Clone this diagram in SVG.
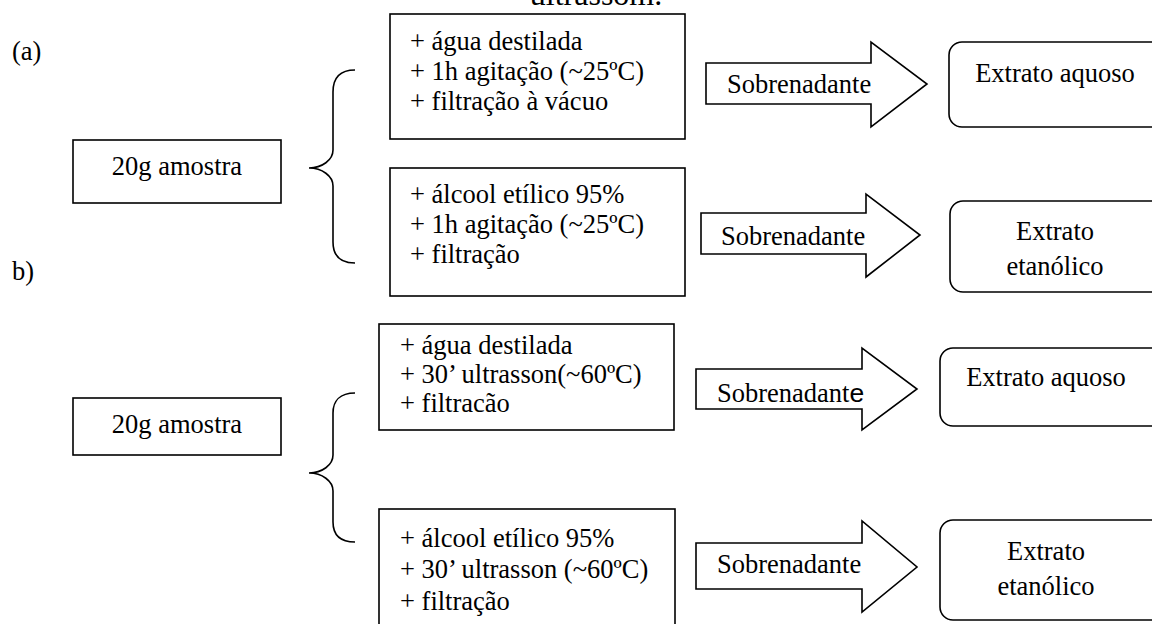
<svg xmlns="http://www.w3.org/2000/svg" width="1152" height="624" viewBox="0 0 1152 624">
<style>
text{font-family:"Liberation Serif","Times New Roman",serif;font-size:26.5px;fill:#000}
.b{fill:#fff;stroke:#000;stroke-width:1.6}
.c{text-anchor:middle}
.br{fill:none;stroke:#000;stroke-width:1.6}
</style>
<rect width="1152" height="624" fill="#fff"/>
<text x="596" y="5" class="c" style="font-size:32px">ultrassom.</text>
<text x="12" y="60">(a)</text>
<text x="12" y="280">b)</text>

<g id="amostra-a"><rect class="b" x="73" y="140" width="208" height="63"/><text class="c" x="177" y="175">20g amostra</text></g>
<g id="amostra-b"><rect class="b" x="73" y="398" width="208" height="57"/><text class="c" x="177" y="433">20g amostra</text></g>

<g id="connectors">
<path class="br" d="M355,70 C340,70 333,78 333,92 L333,150 C333,160 322,168 309,168 C322,168 333,176 333,186 L333,242 C333,256 340,263 355,263"/>
<path class="br" d="M355,393 C340,393 333,401 333,413 L333,455 C333,465 322,473 309,473 C322,473 333,481 333,491 L333,522 C333,535 340,542 355,542"/>
</g>

<g id="proc-a1"><rect class="b" x="390" y="14" width="295" height="125"/>
<text x="410" y="50">+ água destilada</text><text x="410" y="80">+ 1h agitação (~25ºC)</text><text x="410" y="110">+ filtração à vácuo</text></g>
<g id="proc-a2"><rect class="b" x="390" y="168" width="295" height="128"/>
<text x="410" y="203">+ álcool etílico 95%</text><text x="410" y="233">+ 1h agitação (~25ºC)</text><text x="410" y="263">+ filtração</text></g>
<g id="proc-b1"><rect class="b" x="379" y="324" width="295" height="106"/>
<text x="400" y="354">+ água destilada</text><text x="400" y="383">+ 30’ ultrasson(~60ºC)</text><text x="400" y="412">+ filtracão</text></g>
<g id="proc-b2"><rect class="b" x="379" y="509" width="296" height="130"/>
<text x="400" y="547">+ álcool etílico 95%</text><text x="400" y="578">+ 30’ ultrasson (~60ºC)</text><text x="400" y="610">+ filtração</text></g>

<g id="arrow-a1"><polygon class="b" points="706,63 871,63 871,42 927,84 871,127 871,104 706,104"/><text x="727" y="93">Sobrenadante</text></g>
<g id="arrow-a2"><polygon class="b" points="701,213 866,213 866,194 920,235 866,277 866,254 701,254"/><text x="721" y="245">Sobrenadante</text></g>
<g id="arrow-b1"><polygon class="b" points="696,369 862,369 862,348 917,389 862,430 862,409 696,409"/><text x="717" y="402">Sobrenadant<tspan style="font-family:'Liberation Sans',Arial,sans-serif">e</tspan></text></g>
<g id="arrow-b2"><polygon class="b" points="696,543 862,543 862,521 917,567 862,612 862,589 696,589"/><text x="717" y="573">Sobrenadante</text></g>

<g id="ext-a1"><rect class="b" x="949" y="42" width="215" height="85" rx="13"/><text class="c" x="1055" y="82">Extrato aquoso</text></g>
<g id="ext-a2"><rect class="b" x="950" y="201" width="215" height="91" rx="13"/><text class="c" x="1055" y="240">Extrato</text><text class="c" x="1055" y="275">etanólico</text></g>
<g id="ext-b1"><rect class="b" x="940" y="348" width="225" height="78" rx="13"/><text class="c" x="1046" y="386">Extrato aquoso</text></g>
<g id="ext-b2"><rect class="b" x="940" y="520" width="225" height="100" rx="13"/><text class="c" x="1046" y="560">Extrato</text><text class="c" x="1046" y="595">etanólico</text></g>
</svg>
